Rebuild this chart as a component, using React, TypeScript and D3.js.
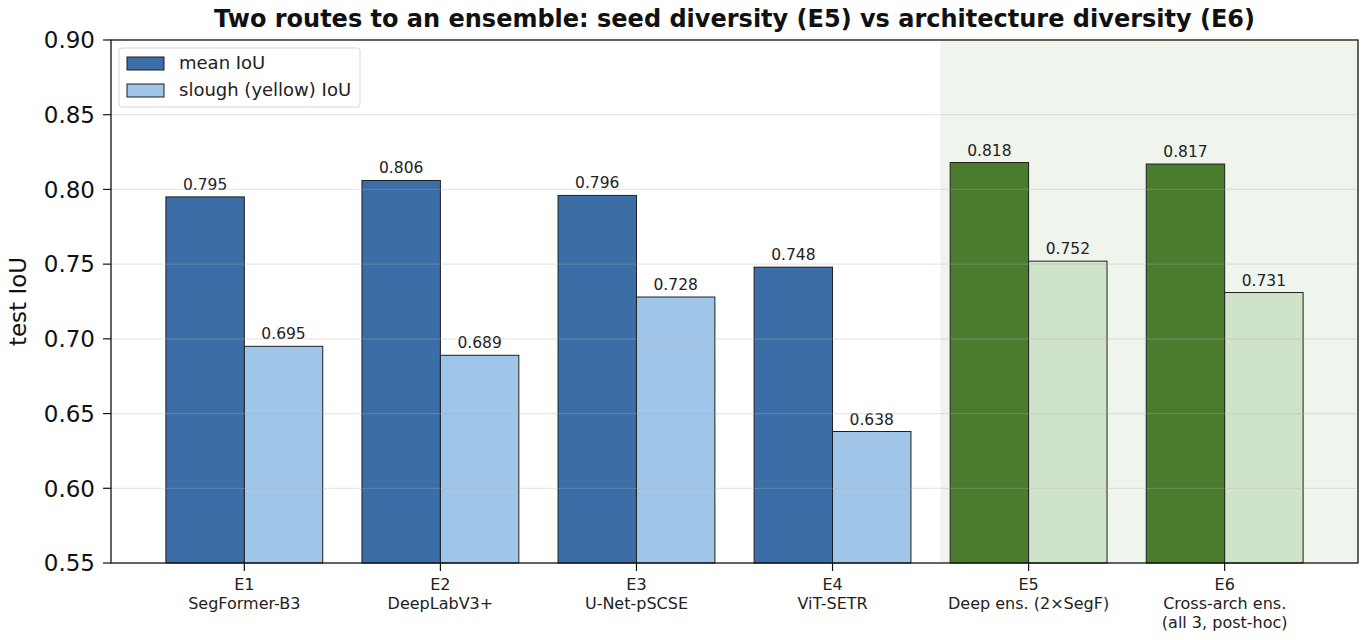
import React from 'react';
import * as d3 from 'd3';

// Per-experiment test IoU: mean over classes and the slough (yellow) class alone.
const expIds = ['E1', 'E2', 'E3', 'E4', 'E5', 'E6'];
const expNames = [
  ['SegFormer-B3'],
  ['DeepLabV3+'],
  ['U-Net-pSCSE'],
  ['ViT-SETR'],
  ['Deep ens. (2×SegF)'],
  ['Cross-arch ens.', '(all 3, post-hoc)'],
];
const meanIoU = [0.795, 0.806, 0.796, 0.748, 0.818, 0.817];
const sloughIoU = [0.695, 0.689, 0.728, 0.638, 0.752, 0.731];
const isEnsemble = [false, false, false, false, true, true];
const yTicks = [0.55, 0.6, 0.65, 0.7, 0.75, 0.8, 0.85, 0.9];

const W = 1371;
const H = 640;
const margin = { left: 111, right: 13, top: 40, bottom: 77 };
const FONT = "'DejaVu Sans', sans-serif";

const colors = {
  mean: '#3b6ea6',
  slough: '#9fc5e8',
  ensMean: '#4a7c2e',
  ensSlough: '#cfe3c9',
  shade: '#eff5ec',
};

export default function App() {
  const x = d3
    .scaleLinear()
    .domain([-0.68, expIds.length - 1 + 0.68])
    .range([margin.left, W - margin.right]);
  const y = d3
    .scaleLinear()
    .domain([0.55, 0.9])
    .range([H - margin.bottom, margin.top]);
  const barW = x(0.4) - x(0);
  const fmt = d3.format('.3f');
  const [x0, x1] = x.range();
  const [yb, yt] = y.range();

  return (
    <svg width={W} height={H} style={{ display: 'block', margin: -8 }} fontFamily={FONT}>
      <rect width={W} height={H} fill="#fff" />
      {/* ensemble region */}
      <rect x={x(3.55)} y={yt} width={x1 - x(3.55)} height={yb - yt} fill={colors.shade} />

      {expIds.map((id, i) => {
        const ens = isEnsemble[i];
        const bars = [
          { v: meanIoU[i], off: -barW, fill: ens ? colors.ensMean : colors.mean },
          { v: sloughIoU[i], off: 0, fill: ens ? colors.ensSlough : colors.slough },
        ];
        return (
          <g key={id}>
            {bars.map((b, j) => (
              <g key={j}>
                <rect
                  x={x(i) + b.off}
                  y={y(b.v)}
                  width={barW}
                  height={yb - y(b.v)}
                  fill={b.fill}
                  stroke="#1f1f1f"
                  strokeWidth={1}
                />
                <text
                  x={x(i) + b.off + barW / 2}
                  y={y(b.v) - 7}
                  textAnchor="middle"
                  fontSize={15.5}
                  fill="#222"
                >
                  {fmt(b.v)}
                </text>
              </g>
            ))}
          </g>
        );
      })}

      {/* grid drawn faintly over bars */}
      {yTicks.slice(1, -1).map((t) => (
        <line key={t} x1={x0} x2={x1} y1={y(t)} y2={y(t)} stroke="#b0b0b0" strokeOpacity={0.3} strokeWidth={1.2} />
      ))}

      {/* frame */}
      <rect x={x0} y={yt} width={x1 - x0} height={yb - yt} fill="none" stroke="#111" strokeWidth={1.3} />

      {/* y axis */}
      {yTicks.map((t) => (
        <g key={t} transform={`translate(${x0},${y(t)})`}>
          <line x1={-8} x2={0} stroke="#111" strokeWidth={1.2} />
          <text x={-16} dy="0.36em" textAnchor="end" fontSize={23} fill="#111">
            {t.toFixed(2)}
          </text>
        </g>
      ))}
      <text
        transform={`translate(26,${(yt + yb) / 2}) rotate(-90)`}
        textAnchor="middle"
        fontSize={23}
        fill="#111"
      >
        test IoU
      </text>

      {/* x axis */}
      {expIds.map((id, i) => (
        <g key={id} transform={`translate(${x(i)},${yb})`}>
          <line y1={0} y2={8} stroke="#111" strokeWidth={1.2} />
          {[id, ...expNames[i]].map((line, k) => (
            <text key={k} y={27 + k * 19} textAnchor="middle" fontSize={16} fill="#222">
              {line}
            </text>
          ))}
        </g>
      ))}

      {/* title */}
      <text x={(x0 + x1) / 2} y={27} textAnchor="middle" fontSize={24} fontWeight="bold" fill="#111">
        Two routes to an ensemble: seed diversity (E5) vs architecture diversity (E6)
      </text>

      {/* legend */}
      <g transform={`translate(${x0 + 8},${yt + 8})`}>
        <rect width={241} height={59} rx={3} fill="#fff" fillOpacity={0.85} stroke="#d5d5d5" />
        {[
          { label: 'mean IoU', fill: colors.mean },
          { label: 'slough (yellow) IoU', fill: colors.slough },
        ].map((e, k) => (
          <g key={e.label} transform={`translate(8,${9 + k * 27})`}>
            <rect width={37} height={13} fill={e.fill} stroke="#1f1f1f" strokeWidth={1} />
            <text x={52} y={12} fontSize={18} fill="#222">
              {e.label}
            </text>
          </g>
        ))}
      </g>
    </svg>
  );
}
